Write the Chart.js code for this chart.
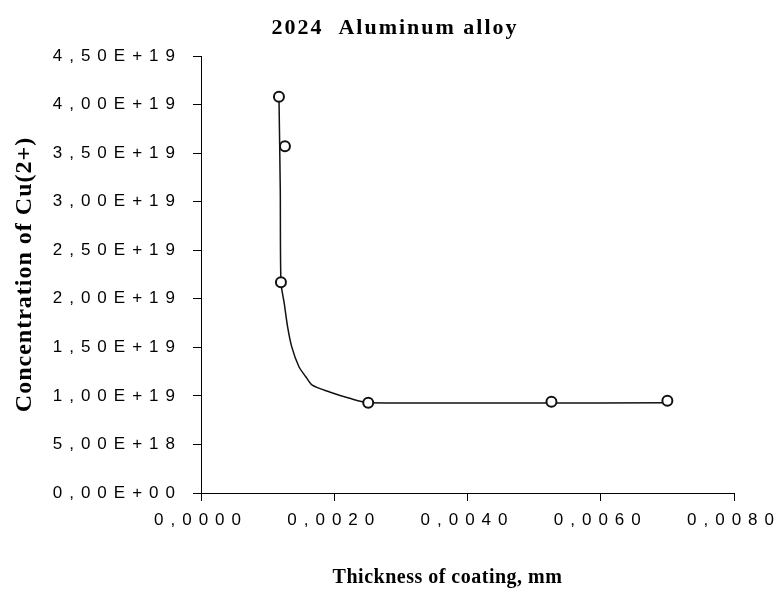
<!DOCTYPE html>
<html>
<head>
<meta charset="utf-8">
<script src="https://cdn.jsdelivr.net/npm/chart.js@4/dist/chart.umd.min.js"></script>
<style>
  html, body { margin: 0; padding: 0; background: #fff; }
  #wrap { width: 777px; height: 590px; }
</style>
</head>
<body>
<div id="wrap"><canvas id="chart"></canvas></div>
<script>
// measured points (thickness in mm, Cu(2+) concentration)
const thickness = [0.00117, 0.00126, 0.00120, 0.00251, 0.00526, 0.00700];
const concentration = [4.08e19, 3.57e19, 2.17e19, 0.93e19, 0.94e19, 0.95e19];

const curveX = [0.00117, 0.00119, 0.00120, 0.00125, 0.00130, 0.00136, 0.00147, 0.00157,
                0.00167, 0.00193, 0.00223, 0.00251, 0.00700];
const curveY = [4.09e19, 3.12e19, 2.17e19, 1.95e19, 1.71e19, 1.51e19, 1.30e19, 1.20e19,
                1.11e19, 1.04e19, 0.975e19, 0.93e19, 0.93e19];

const xTickLabels = ['0,0000', '0,0020', '0,0040', '0,0060', '0,0080'];
const yTickLabels = ['0,00E+00', '5,00E+18', '1,00E+19', '1,50E+19', '2,00E+19',
                     '2,50E+19', '3,00E+19', '3,50E+19', '4,00E+19', '4,50E+19'];

const serif = "'Liberation Serif', 'Times New Roman', serif";
const sans = "'Liberation Sans', Arial, sans-serif";

function spaced(ctx, amount, shiftX, fn) {
    const old = ctx.letterSpacing;
    ctx.save();
    ctx.translate(shiftX, 0);
    ctx.letterSpacing = amount;
    fn();
    ctx.letterSpacing = old;
    ctx.restore();
}

// the old Excel picture has wide letter spacing; canvas can do that
const letterSpacing = {
    id: 'letterSpacing',
    afterLayout(chart) {
        Object.values(chart.scales).forEach(s => {
            if (s._spaced) return;
            s._spaced = true;
            const drawLabels = s.drawLabels;
            const drawTitle = s.drawTitle;
            s.drawLabels = function (area) { spaced(chart.ctx, '7px', 0, () => drawLabels.call(this, area)); };
            s.drawTitle = function () {
                if (s.axis === 'y') spaced(chart.ctx, '1px', 0, () => drawTitle.call(this));
                else spaced(chart.ctx, '0.5px', -20, () => drawTitle.call(this));
            };
        });
        const tb = chart.titleBlock;
        if (tb) {
            // the title sits centred on the whole picture, not on the plot
            tb.left = 13;
            tb.right = chart.width;
            if (!tb._spaced) {
                tb._spaced = true;
                const draw = tb.draw;
                tb.draw = function () { spaced(chart.ctx, '2px', 0, () => draw.call(this)); };
            }
        }
    }
};

new Chart('chart', {
    type: 'scatter',
    data: {
        datasets: [{
            data: thickness.map((x, i) => ({ x, y: concentration[i] })),
            pointStyle: 'circle',
            pointRadius: 5,
            pointBorderWidth: 2,
            pointBorderColor: '#111',
            pointBackgroundColor: '#fff',
            showLine: false
        }, {
            data: curveX.map((x, i) => ({ x, y: curveY[i] })),
            showLine: true,
            borderColor: '#111',
            borderWidth: 1.5,
            pointRadius: 0,
            tension: 0.25
        }]
    },
    options: {
        responsive: true,
        maintainAspectRatio: false,
        animation: false,
        layout: { padding: { left: 0, right: 43, top: 0, bottom: 0 } },
        plugins: {
            legend: { display: false },
            tooltip: { enabled: false },
            title: {
                display: true,
                text: '2024  Aluminum alloy',
                color: '#000',
                font: { family: serif, size: 22, weight: 'bold' },
                padding: { top: 15, bottom: 14.6 }
            }
        },
        scales: {
            x: {
                type: 'linear',
                min: 0,
                max: 0.008,
                afterFit: s => { s.height = 97; },
                ticks: {
                    stepSize: 0.002,
                    color: '#000',
                    padding: 9,
                    maxRotation: 0,
                    font: { family: sans, size: 17 },
                    callback: (v, i) => xTickLabels[i]
                },
                grid: { drawOnChartArea: false, tickLength: 8, tickColor: '#000', tickWidth: 1 },
                border: { color: '#000', width: 1 },
                title: {
                    display: true,
                    text: 'Thickness of coating, mm',
                    color: '#000',
                    font: { family: serif, size: 20, weight: 'bold' },
                    padding: { top: 0, bottom: 0 }
                }
            },
            y: {
                type: 'linear',
                min: 0,
                max: 4.5e19,
                afterFit: s => { s.width = 201; },
                ticks: {
                    stepSize: 0.5e19,
                    color: '#000',
                    padding: 11,
                    font: { family: sans, size: 17 },
                    callback: (v, i) => yTickLabels[i]
                },
                grid: { drawOnChartArea: false, tickLength: 8, tickColor: '#000', tickWidth: 1 },
                border: { color: '#000', width: 1 },
                title: {
                    display: true,
                    text: 'Concentration of Cu(2+)',
                    color: '#000',
                    font: { family: serif, size: 24, weight: 'bold' },
                    padding: { top: 10, bottom: 0 }
                }
            }
        }
    },
    plugins: [letterSpacing]
});
</script>
</body>
</html>
